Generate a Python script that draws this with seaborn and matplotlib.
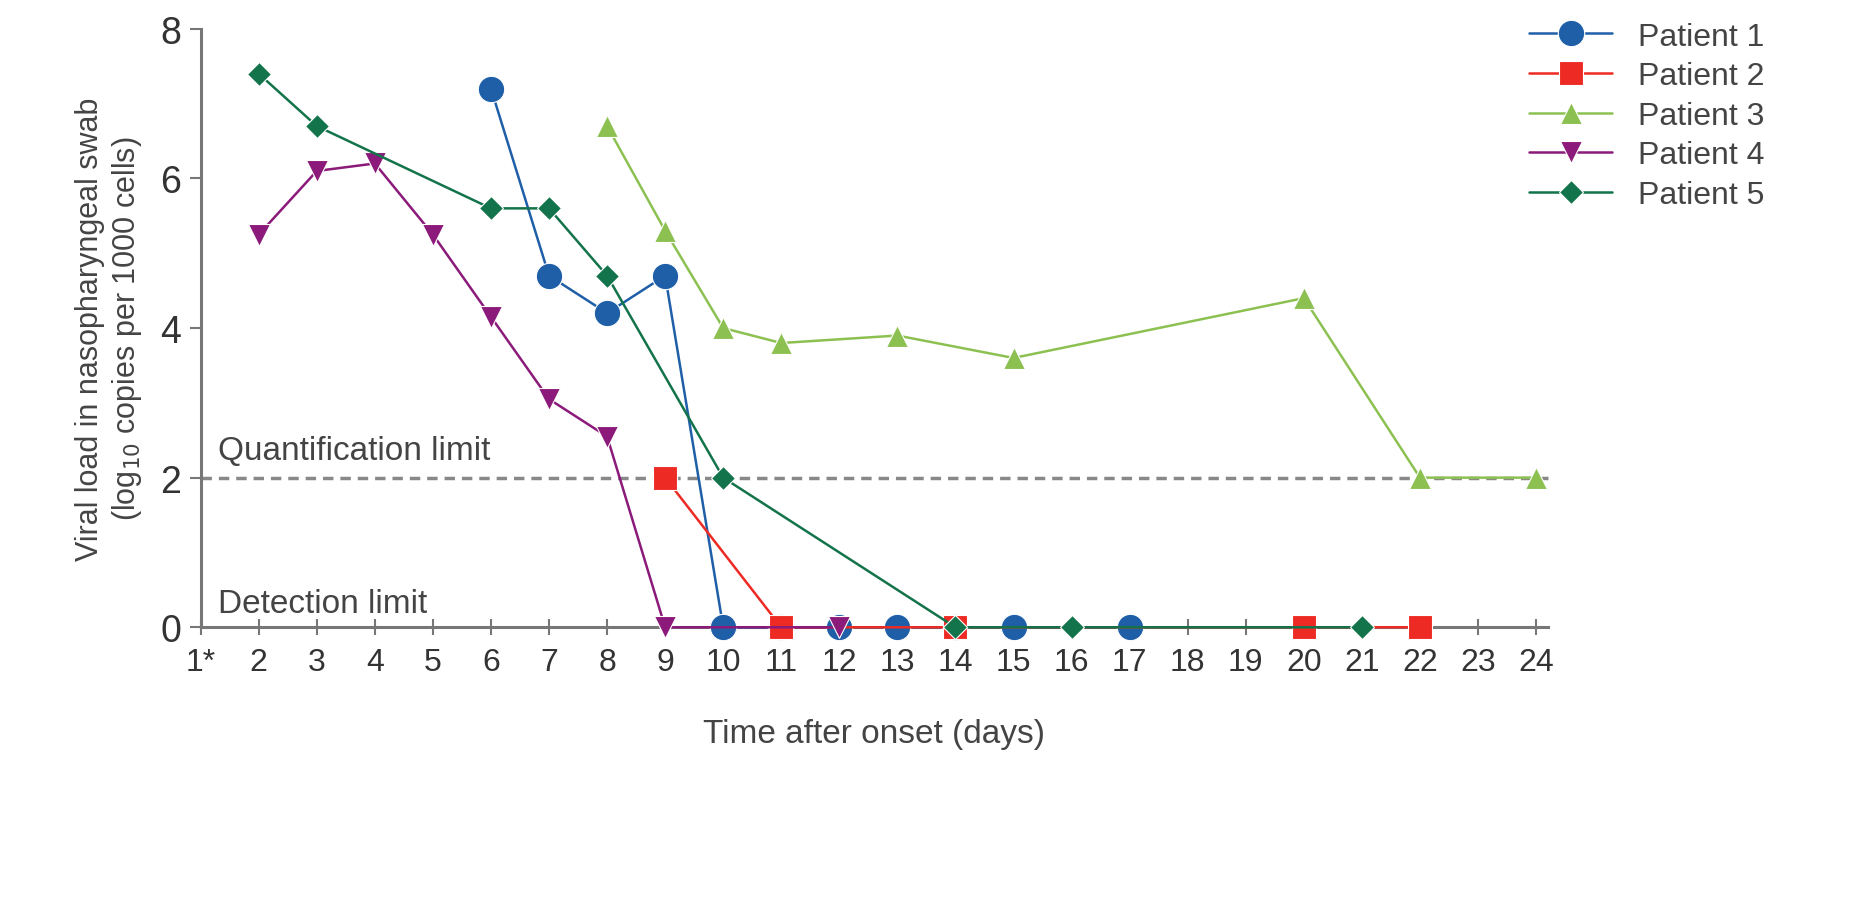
import matplotlib
matplotlib.use("Agg")
import matplotlib.pyplot as plt
import seaborn as sns
import pandas as pd

sns.set_theme(style="white")
plt.rcParams['font.family'] = ['Liberation Sans', 'DejaVu Sans']

p1_days = [6, 7, 8, 9, 10, 11, 12, 13, 14, 15, 17]
p1_vals = [7.2, 4.7, 4.2, 4.7, 0, 0, 0, 0, 0, 0, 0]
p2_days = [9, 11, 14, 20, 22]
p2_vals = [2, 0, 0, 0, 0]
p3_days = [8, 9, 10, 11, 13, 15, 20, 22, 24]
p3_vals = [6.7, 5.3, 4.0, 3.8, 3.9, 3.6, 4.4, 2, 2]
p4_days = [2, 3, 4, 5, 6, 7, 8, 9, 12]
p4_vals = [5.25, 6.1, 6.2, 5.25, 4.15, 3.05, 2.55, 0, 0]
p5_days = [2, 3, 6, 7, 8, 10, 14, 16, 21]
p5_vals = [7.4, 6.7, 5.6, 5.6, 4.7, 2, 0, 0, 0]
x_ticks = list(range(1, 25))
x_labels = ["1*"] + [str(i) for i in range(2, 25)]

series = [
    ("Patient 1", p1_days, p1_vals, "#1f5fa8", "o", 19),
    ("Patient 2", p2_days, p2_vals, "#ee2a24", "s", 17),
    ("Patient 3", p3_days, p3_vals, "#8cc152", "^", 16),
    ("Patient 4", p4_days, p4_vals, "#8b1a7a", "v", 16),
    ("Patient 5", p5_days, p5_vals, "#13734a", "D", 12),
]

fig = plt.figure(figsize=(18.58, 9.04), dpi=100)
ax = fig.add_axes([0.108, 0.305, 0.725, 0.662])

ax.axhline(2, color="#888888", ls=(0, (3, 2)), lw=2.5, zorder=1)

order = [4, 3, 2, 0, 1]
for i in order:
    name, d, v, c, m, ms = series[i]
    df = pd.DataFrame({"day": d, "val": v})
    sns.lineplot(data=df, x="day", y="val", ax=ax, color=c, marker=m,
                 markersize=ms, markeredgecolor="white", markeredgewidth=0.8,
                 linewidth=1.8, label=name, zorder=3 + i)

ax.set_xlim(1, 24.2)
ax.set_ylim(0, 8)
ax.set_xticks(x_ticks)
ax.set_xticklabels(x_labels, fontsize=23, color="#333333")
ax.set_yticks([0, 2, 4, 6, 8])
ax.set_yticklabels(["0", "2", "4", "6", "8"], fontsize=27, color="#333333")
ax.tick_params(axis="x", direction="inout", length=12, width=1.5, color="#777777", bottom=True, pad=8)
ax.tick_params(axis="y", direction="out", length=8, width=1.5, color="#777777", left=True, pad=6)
for s in ["top", "right"]:
    ax.spines[s].set_visible(False)
for s in ["left", "bottom"]:
    ax.spines[s].set_color("#777777")
    ax.spines[s].set_linewidth(2.2)
for l in ax.lines:
    l.set_clip_on(False)

ax.set_xlabel("Time after onset (days)", fontsize=24, color="#444444", labelpad=30)
ax.set_ylabel("Viral load in nasopharyngeal swab\n(log$_{10}$ copies per 1000 cells)", fontsize=22, color="#444444", labelpad=12)
ax.text(1.3, 2.25, "Quantification limit", fontsize=24, color="#444444")
ax.text(1.3, 0.2, "Detection limit", fontsize=24, color="#444444")

h, lab = ax.get_legend_handles_labels()
idx = sorted(range(len(lab)), key=lambda k: lab[k])
ax.legend([h[k] for k in idx], [lab[k] for k in idx], loc="upper left",
          bbox_to_anchor=(0.965, 1.06), frameon=False, fontsize=23,
          handlelength=2.6, labelspacing=0.3, labelcolor="#444444")

fig.savefig("out.png", dpi=100)
